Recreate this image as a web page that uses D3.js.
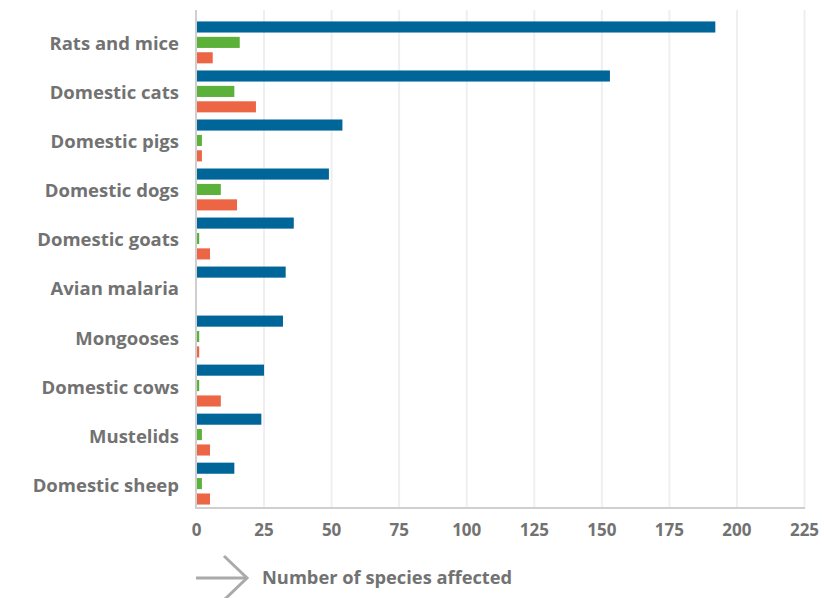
<!DOCTYPE html>
<html><head><meta charset="utf-8">
<script src="https://cdn.jsdelivr.net/npm/d3@7"></script>
<style>body{margin:0;background:#fff}svg{display:block}text{font-family:"Open Sans",sans-serif;font-weight:700}</style>
</head><body><div id="c"></div>
<script>
const categories = ["Rats and mice","Domestic cats","Domestic pigs","Domestic dogs","Domestic goats","Avian malaria","Mongooses","Domestic cows","Mustelids","Domestic sheep"];
const seriesNames = ["Blue","Green","Red"];
const blueValues = [192,153,54,49,36,33,32,25,24,14];
const greenValues = [16,14,2,9,1,0,1,1,2,2];
const redValues = [6,22,2,15,5,0,1,9,5,5];
const seriesColors = ["#006598","#5bb139","#ec6646"];
const xTicks = [0,25,50,75,100,125,150,175,200,225];
const xTitle = "Number of species affected";

const W=824,H=598;
const svg=d3.select("#c").append("svg").attr("width",W).attr("height",H);
const x=d3.scaleLinear().domain([0,225]).range([196.5,804.5]);
const y=d3.scaleBand().domain(categories).range([18,508]).paddingInner(0.145).paddingOuter(0.07);
const sub=d3.scaleBand().domain(seriesNames).range([0,y.bandwidth()]).paddingInner(0.28);

// gridlines
svg.append("g").selectAll("line").data(xTicks.slice(1)).join("line")
  .attr("x1",d=>x(d)).attr("x2",d=>x(d)).attr("y1",10).attr("y2",508)
  .attr("stroke","#efefef").attr("stroke-width",2);

const series=[blueValues,greenValues,redValues];
series.forEach((vals,si)=>{
  svg.append("g").selectAll("rect").data(categories).join("rect")
    .attr("x",x(0)).attr("y",(c)=>y(c)+sub(seriesNames[si]))
    .attr("width",(c,i)=>x(vals[i])-x(0)).attr("height",sub.bandwidth())
    .attr("fill",seriesColors[si]);
});

// axes lines
svg.append("line").attr("x1",x(0)-0.5).attr("x2",x(0)-0.5).attr("y1",10).attr("y2",508.5).attr("stroke","#cfcfcf").attr("stroke-width",2);
svg.append("line").attr("x1",x(0)-1.5).attr("x2",805).attr("y1",508).attr("y2",508).attr("stroke","#cfcfcf").attr("stroke-width",2);

// category labels
svg.append("g").selectAll("text").data(categories).join("text")
  .attr("x",179).attr("y",c=>y(c)+y.bandwidth()/2+1.5).attr("dy","0.35em")
  .attr("text-anchor","end").attr("font-size",18.5).attr("fill","#727272")
  .text(d=>d);

// tick labels
svg.append("g").selectAll("text").data(xTicks).join("text")
  .attr("x",d=>x(d)).attr("y",530).attr("dy","0.35em")
  .attr("text-anchor","middle").attr("font-size",17).attr("fill","#727272")
  .text(d=>d);

// arrow + title
const ag=svg.append("g").attr("stroke","#aaa").attr("stroke-width",3).attr("fill","none");
ag.append("line").attr("x1",196).attr("x2",247).attr("y1",578).attr("y2",578);
ag.append("polyline").attr("points","224,556 247,578 224,600");
svg.append("text").attr("x",262).attr("y",578).attr("dy","0.35em").attr("font-size",18.3).attr("fill","#727272").text(xTitle);
</script></body></html>
